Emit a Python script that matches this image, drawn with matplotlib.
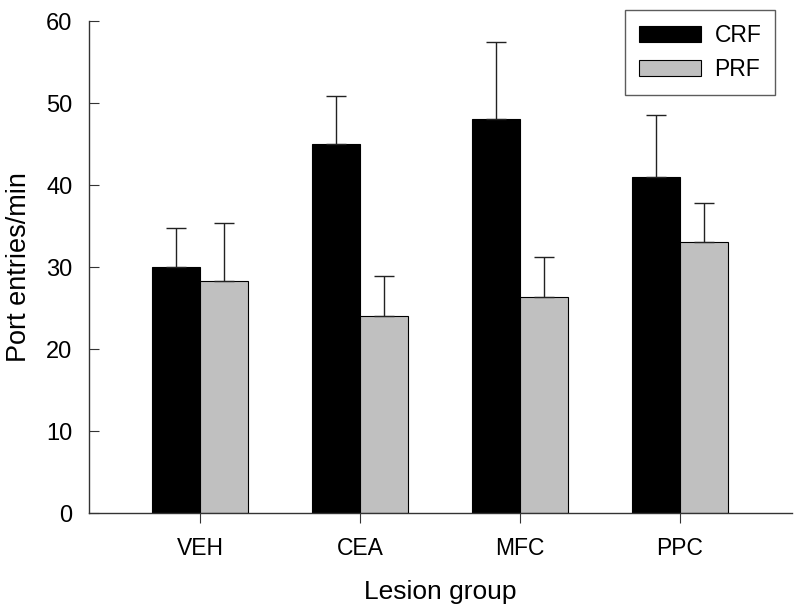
import matplotlib
matplotlib.use("Agg")
import matplotlib.pyplot as plt
import numpy as np

plt.rcParams['font.family'] = ['Liberation Sans', 'DejaVu Sans']

groups = ["VEH", "CEA", "MFC", "PPC"]
crf = [30.0, 45.0, 48.0, 41.0]
crf_err = [4.7, 5.8, 9.5, 7.5]
prf = [28.3, 24.0, 26.4, 33.0]
prf_err = [7.1, 4.9, 4.8, 4.8]

fig = plt.figure(figsize=(8, 6.13), dpi=100)
ax = fig.add_axes([89/800, 100/613, (792-89)/800, (513-21)/613])

x = np.arange(len(groups))
w = 0.3
ekw = dict(ecolor='#222222', elinewidth=1.0, capsize=7, capthick=1.0)
ax.bar(x - w/2, crf, w, color='black', edgecolor='black', linewidth=0.8,
       yerr=[np.zeros(4), crf_err], error_kw=ekw, label='CRF')
ax.bar(x + w/2, prf, w, color='#c0c0c0', edgecolor='black', linewidth=0.8,
       yerr=[np.zeros(4), prf_err], error_kw=ekw, label='PRF')

ax.set_xlim(-0.694, 3.7)
ax.set_ylim(0, 60)
ax.set_yticks(range(0, 61, 10))
ax.set_xticks(x)
ax.set_xticklabels(groups)
for s in ['top', 'right']:
    ax.spines[s].set_visible(False)
for s in ['left', 'bottom']:
    ax.spines[s].set_color('#333333')
    ax.spines[s].set_linewidth(1.0)
ax.tick_params(axis='y', direction='in', length=7, labelsize=17, pad=12, color='#333333')
ax.tick_params(axis='x', direction='out', length=7, labelsize=16.5, pad=10, color='#333333')
ax.set_xlabel("Lesion group", fontsize=19, labelpad=15)
ax.set_ylabel("Port entries/min", fontsize=19.5, labelpad=10)

leg = ax.legend(loc='upper right', bbox_to_anchor=(775/800, 1 - 10/613), bbox_transform=fig.transFigure,
                fontsize=16.5, frameon=True, fancybox=False, handlelength=2.7, handleheight=0.7,
                borderpad=0.6, labelspacing=0.5, handletextpad=0.6, borderaxespad=0)
leg.get_frame().set_edgecolor('#333333')
leg.get_frame().set_linewidth(1.0)

fig.savefig("out.png", dpi=100)
